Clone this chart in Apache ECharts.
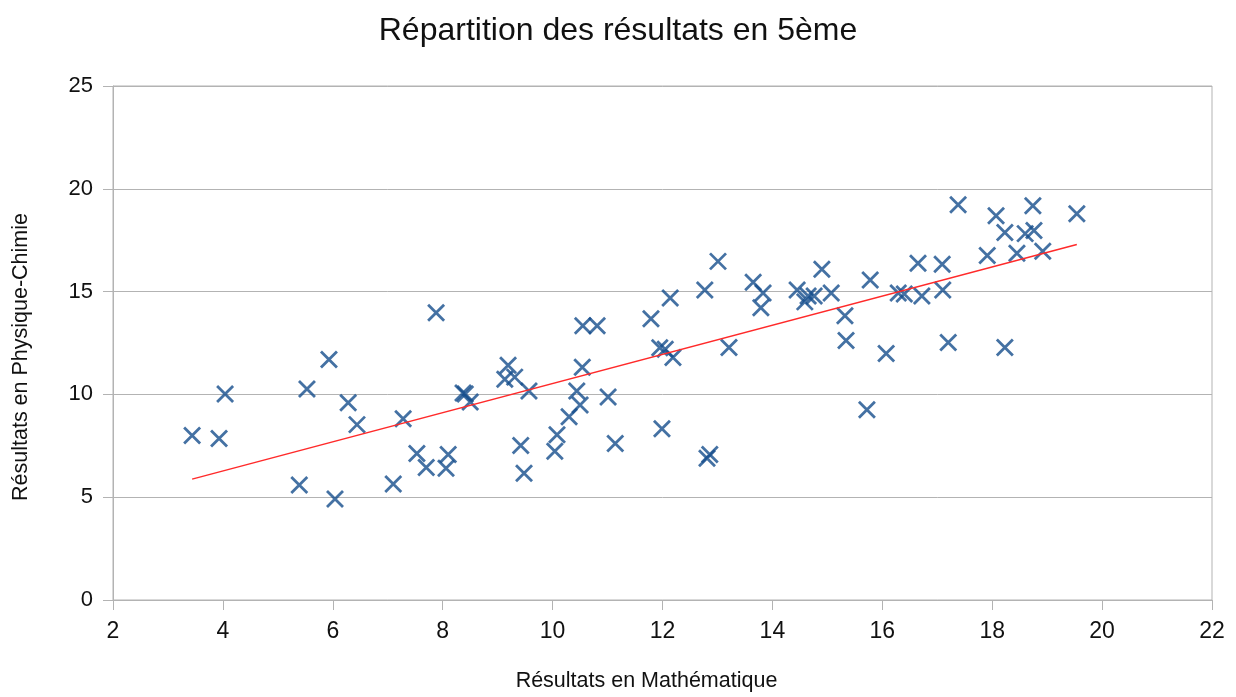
<!DOCTYPE html>
<html>
<head>
<meta charset="utf-8">
<script src="https://cdn.jsdelivr.net/npm/echarts@6/dist/echarts.min.js"></script>
<style>
  html, body { margin: 0; padding: 0; background: #fff; }
  #chart { width: 1236px; height: 697px; }
</style>
</head>
<body>
<div id="chart"></div>
<script>
// notes en mathématique (x) et en physique-chimie (y)
const mathNotes = [
  3.44, 3.93, 4.04, 5.39, 5.53, 5.93, 6.04, 6.28, 6.44, 7.10,
  7.28, 7.53, 7.70, 7.88, 8.10, 8.06, 8.37, 8.41, 8.50, 9.13,
  9.19, 9.31, 9.42, 9.48, 9.57, 10.04, 10.08, 10.30, 10.44, 10.50,
  10.54, 10.55, 10.81, 11.01, 11.14, 11.79, 11.95, 12.05, 11.99, 12.14,
  12.19, 12.77, 13.01, 13.21, 12.81, 12.86, 13.65, 13.83, 13.79, 14.45,
  14.65, 14.59, 14.76, 14.90, 15.07, 15.32, 15.34, 15.72, 15.78, 16.07,
  16.29, 16.40, 16.65, 16.72, 17.09, 17.10, 17.20, 17.38, 17.91, 18.07,
  18.23, 18.23, 18.45, 18.60, 18.74, 18.76, 18.92, 19.54
]
const physNotes = [
  8.00, 7.85, 10.02, 5.59, 10.26, 11.70, 4.91, 9.59, 8.53, 5.64,
  8.82, 7.13, 6.45, 13.97, 7.08, 6.41, 10.07, 10.02, 9.63, 10.74,
  11.42, 10.84, 7.51, 6.17, 10.16, 7.23, 8.04, 8.91, 10.16, 9.49,
  11.32, 13.34, 13.34, 9.87, 7.61, 13.68, 12.27, 12.20, 8.33, 14.69,
  11.80, 15.08, 16.47, 12.28, 6.89, 7.08, 15.46, 14.93, 14.21, 15.08,
  14.79, 14.50, 14.79, 16.09, 14.93, 13.82, 12.62, 9.25, 15.56, 11.99,
  14.93, 14.88, 16.38, 14.79, 16.33, 15.08, 12.52, 19.22, 16.76, 18.69,
  17.87, 12.28, 16.86, 17.82, 19.17, 17.97, 16.96, 18.79
]
// courbe de tendance (extrémités)
const trendX = [3.44, 19.54]
const trendY = [5.88, 17.29]

const xTicks = { min: 2, max: 22, interval: 2 }
const yTicks = { min: 0, max: 25, interval: 5 }

let points = mathNotes.map((x, i) => [x, physNotes[i]])
let trend = trendX.map((x, i) => [x, trendY[i]])

const myChart = echarts.init(document.getElementById('chart'))
const gris = '#b3b3b3'
const font = 'Liberation Sans, Arial, sans-serif'

let option = {
  animation: false,
  backgroundColor: '#fff',
  title: {
    text: 'Répartition des résultats en 5ème',
    left: 'center',
    top: 10,
    padding: [5, 19, 5, 5],
    textStyle: { fontFamily: font, fontSize: 32, fontWeight: 'normal', color: '#111' }
  },
  grid: {
    left: 113,
    right: 24,
    top: 86,
    bottom: 92,
    show: true,
    borderColor: gris,
    borderWidth: 1
  },
  xAxis: {
    type: 'value',
    min: xTicks.min,
    max: xTicks.max,
    interval: xTicks.interval,
    name: 'Résultats en Mathématique',
    nameLocation: 'middle',
    nameGap: 70,
    nameTextStyle: { fontFamily: font, fontSize: 21.5, color: '#111', padding: [0, 32, 0, 0] },
    axisLine: { show: true, onZero: false, lineStyle: { color: gris } },
    axisTick: { show: true, length: 10, lineStyle: { color: gris } },
    axisLabel: { fontFamily: font, fontSize: 23, color: '#111', margin: 20 },
    splitLine: { show: false }
  },
  yAxis: {
    type: 'value',
    min: yTicks.min,
    max: yTicks.max,
    interval: yTicks.interval,
    name: 'Résultats en Physique-Chimie',
    nameLocation: 'middle',
    nameGap: 81,
    nameTextStyle: { fontFamily: font, fontSize: 21.5, color: '#111', padding: [0, 28, 0, 0] },
    axisLine: { show: true, lineStyle: { color: gris } },
    axisTick: { show: true, length: 10, lineStyle: { color: gris } },
    axisLabel: { fontFamily: font, fontSize: 22, color: '#111', margin: 20 },
    splitLine: { show: true, lineStyle: { color: gris } }
  },
  series: [
    {
      type: 'scatter',
      data: points,
      symbol: 'path://M0,0L10,10M10,0L0,10',
      symbolSize: 16,
      itemStyle: { color: 'none', borderColor: '#154d8c', borderWidth: 2.8 },
      z: 2
    },
    {
      type: 'line',
      data: trend,
      symbol: 'none',
      lineStyle: { color: '#ff2a2a', width: 1.5 },
      z: 3
    }
  ]
}
myChart.setOption(option)
</script>
</body>
</html>
